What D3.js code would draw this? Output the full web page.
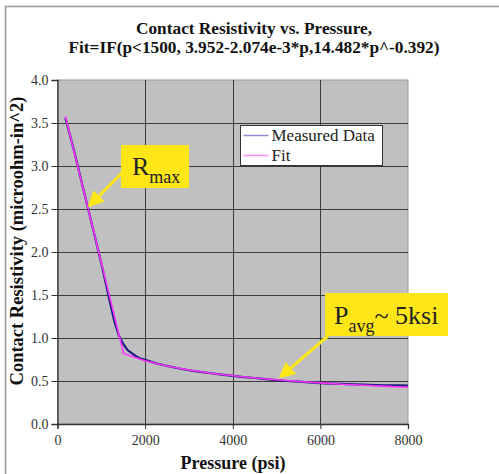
<!DOCTYPE html>
<html>
<head>
<meta charset="utf-8">
<script src="https://cdn.jsdelivr.net/npm/d3@7"></script>
<style>
	html, body { margin: 0; padding: 0; background: #fff; }
	svg { display: block; font-family: "Liberation Serif", "Times New Roman", serif; }
</style>
</head>
<body>
<svg class="viz" width="499" height="474"></svg>
<script>
// *** Chart data ***
const titleLines = ["Contact Resistivity vs. Pressure,", "Fit=IF(p<1500, 3.952-2.074e-3*p,14.482*p^-0.392)"];
const xTicks = [0, 2000, 4000, 6000, 8000];
const yTicks = [0, 0.5, 1.0, 1.5, 2.0, 2.5, 3.0, 3.5, 4.0];
const seriesNames = ["Measured Data", "Fit"];

const measuredP = [180, 300, 400, 500, 600, 700, 800, 900, 1000, 1100, 1200, 1300, 1400, 1500, 1600, 1700, 1800, 1900, 2000,
	2250, 2500, 2750, 3000, 3250, 3500, 3750, 4000, 4250, 4500, 4750, 5000, 5250, 5500, 5750, 6000, 6250, 6500, 6750, 7000, 7250, 7500, 7750, 8000];
const measuredR = [3.56, 3.33, 3.13, 2.92, 2.71, 2.50, 2.29, 2.08, 1.87, 1.64, 1.41, 1.19, 1.03, 0.93, 0.86, 0.82, 0.785, 0.76, 0.745,
	0.705, 0.675, 0.648, 0.625, 0.607, 0.59, 0.575, 0.56, 0.545, 0.535, 0.522, 0.51, 0.50, 0.492, 0.483, 0.476, 0.470, 0.466, 0.461, 0.457, 0.453, 0.450, 0.448, 0.446];

const fitP = [180, 500, 1000, 1499, 1500, 1750, 2000, 2500, 3000, 3500, 4000, 4500, 5000, 5500, 6000, 6500, 7000, 7500, 8000];
const fitR = [3.579, 2.915, 1.878, 0.843, 0.824, 0.776, 0.736, 0.675, 0.628, 0.591, 0.561, 0.535, 0.514, 0.494, 0.478, 0.463, 0.450, 0.438, 0.428];

const calloutText = [["R", "max", ""], ["P", "avg", "~ 5ksi"]];
const calloutTip = [[690, 2.52], [5050, 0.53]];

function render() {
	let grph = d3.select(".viz");
	const left = 57.5, right = 408, top = 80, bottom = 424;

	let x = d3.scaleLinear().domain([0, 8000]).range([left, right]);
	let y = d3.scaleLinear().domain([0, 4]).range([bottom, top]);

	// outer frame
	grph.append("path").attr("d", "M5.5,474V6.5H499")
		.attr("fill", "none").attr("stroke", "#999").attr("stroke-width", 1.5);

	// title (two lines)
	grph.append("g").selectAll("text").data(titleLines).join("text")
		.attr("x", 254).attr("y", (d, i) => 34 + i * 18.5)
		.attr("text-anchor", "middle").attr("font-weight", "bold").attr("font-size", 17.3).attr("fill", "#111")
		.text(d => d);

	// plot area
	grph.append("rect").attr("x", left).attr("y", top).attr("width", right - left).attr("height", bottom - top)
		.attr("fill", "#c0c0c0").attr("stroke", "#9a9a9a").attr("stroke-width", 1);

	// gridlines
	grph.append("g").selectAll("line").data(yTicks.filter(d => d > 0 && d < 4)).join("line")
		.attr("x1", left).attr("x2", right)
		.attr("y1", d => Math.round(y(d)) + 0.5).attr("y2", d => Math.round(y(d)) + 0.5)
		.attr("stroke", "#3a3a3a").attr("stroke-width", 1);
	grph.append("g").selectAll("line").data(xTicks.filter(d => d > 0 && d < 8000)).join("line")
		.attr("y1", top).attr("y2", bottom)
		.attr("x1", d => Math.round(x(d)) + 0.5).attr("x2", d => Math.round(x(d)) + 0.5)
		.attr("stroke", "#3a3a3a").attr("stroke-width", 1);

	// axes
	let ay = grph.append("g").attr("transform", "translate(" + left + ",0)")
		.call(d3.axisLeft(y).tickValues(yTicks).tickFormat(d3.format(".1f")).tickSize(6).tickPadding(3));
	let ax = grph.append("g").attr("transform", "translate(0," + bottom + ")")
		.call(d3.axisBottom(x).tickValues(xTicks).tickFormat(d3.format("d")).tickSize(5).tickPadding(6));
	[ax, ay].forEach(a => {
		a.select(".domain").attr("stroke", "#333").attr("stroke-width", 1.3);
		a.selectAll(".tick line").attr("stroke", "#333");
		a.selectAll("text").attr("font-family", "Liberation Serif").attr("font-size", 14).attr("fill", "#333");
	});

	// axis titles
	grph.append("text").attr("x", 233).attr("y", 469).attr("text-anchor", "middle")
		.attr("font-weight", "bold").attr("font-size", 18).attr("fill", "#111").text("Pressure (psi)");
	grph.append("text").attr("transform", "translate(23,241)rotate(-90)").attr("text-anchor", "middle")
		.attr("font-weight", "bold").attr("font-size", 18.5).attr("fill", "#111").text("Contact Resistivity (microohm-in^2)");

	// series
	let line = d3.line().x(d => x(d[0])).y(d => y(d[1]));
	let measured = measuredP.map((p, i) => [p, measuredR[i]]);
	let fit = fitP.map((p, i) => [p, fitR[i]]);
	grph.append("path").attr("d", line(measured)).attr("fill", "none")
		.attr("stroke", "#1a1a80").attr("stroke-width", 2.2);
	grph.append("path").attr("d", line(fit)).attr("fill", "none")
		.attr("stroke", "#ff33ff").attr("stroke-width", 1.6);

	// legend
	let lg = grph.append("g").attr("transform", "translate(240.5,125.5)");
	lg.append("rect").attr("width", 142).attr("height", 40).attr("fill", "#fff").attr("stroke", "#333");
	let colors = ["#8f8fd0", "#ff88ff"];
	seriesNames.forEach((n, i) => {
		lg.append("line").attr("x1", 3).attr("x2", 28).attr("y1", 10 + i * 20).attr("y2", 10 + i * 20)
			.attr("stroke", colors[i]).attr("stroke-width", 1.5);
		lg.append("text").attr("x", 31).attr("y", 15.5 + i * 20).attr("font-size", 17).attr("fill", "#222").text(n);
	});

	// callouts
	const boxes = [{ x: 121, y: 145, w: 68, h: 43, fs: 26, tx: 132, ty: 175, from: [122, 173] },
		{ x: 325, y: 293, w: 123, h: 43, fs: 26, tx: 334, ty: 324, from: [328, 336] }];
	const yellow = "#ffe617";
	boxes.forEach((b, i) => {
		let tip = [x(calloutTip[i][0]), y(calloutTip[i][1])];
		let dx = tip[0] - b.from[0], dy = tip[1] - b.from[1];
		let len = Math.hypot(dx, dy), ux = dx / len, uy = dy / len;
		let hl = 16, hw = 8;
		let base = [tip[0] - ux * hl, tip[1] - uy * hl];
		grph.append("line").attr("x1", b.from[0]).attr("y1", b.from[1]).attr("x2", base[0]).attr("y2", base[1])
			.attr("stroke", yellow).attr("stroke-width", 3);
		grph.append("path").attr("fill", yellow)
			.attr("d", "M" + tip + "L" + [base[0] - uy * hw, base[1] + ux * hw] + "L" + [base[0] + uy * hw, base[1] - ux * hw] + "Z");
		grph.append("rect").attr("x", b.x).attr("y", b.y).attr("width", b.w).attr("height", b.h).attr("fill", yellow);
		let t = grph.append("text").attr("x", b.tx).attr("y", b.ty).attr("font-size", b.fs).attr("fill", "#222");
		t.append("tspan").text(calloutText[i][0]);
		t.append("tspan").attr("font-size", 18).attr("dy", 8).text(calloutText[i][1]);
		if (calloutText[i][2]) t.append("tspan").attr("dy", -8).text(calloutText[i][2]);
	});
}

render();
</script>
</body>
</html>
